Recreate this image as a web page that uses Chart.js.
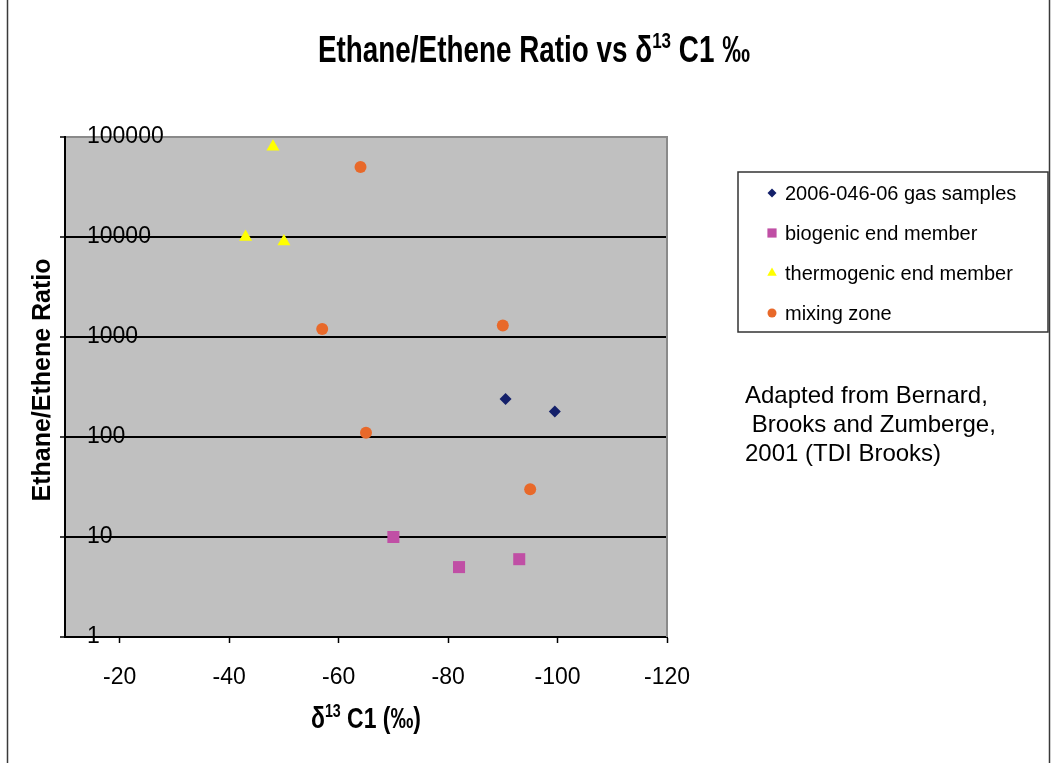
<!DOCTYPE html>
<html>
<head>
<meta charset="utf-8">
<script src="https://cdn.jsdelivr.net/npm/chart.js@4/dist/chart.umd.min.js"></script>
<style>
  html, body { margin: 0; padding: 0; background: #fff; }
  #wrap { position: relative; width: 1054px; height: 763px; }
</style>
</head>
<body>
<div id="wrap"><canvas id="c" width="1054" height="763"></canvas></div>
<script>
// Series names and values (δ13C1 in ‰, ethane/ethene ratio)
const seriesNames = ['2006-046-06 gas samples', 'biogenic end member', 'thermogenic end member', 'mixing zone'];
const gasSamplesC1 = [-90.5, -99.5];
const gasSamplesRatio = [240, 180];
const biogenicC1 = [-70, -82, -93];
const biogenicRatio = [10, 5, 6];
const thermogenicC1 = [-48, -43, -50];
const thermogenicRatio = [80000, 10000, 9000];
const mixingC1 = [-64, -57, -90, -65, -95];
const mixingRatio = [50000, 1200, 1300, 110, 30];

// Axis ticks
const xTicks = [-20, -40, -60, -80, -100, -120];
const yTicks = [1, 10, 100, 1000, 10000, 100000];

// Text blocks
const titleParts = [{ t: 'Ethane/Ethene Ratio vs δ' }, { t: '13', sup: true }, { t: ' C1 ‰' }];
const xTitleParts = [{ t: 'δ' }, { t: '13', sup: true }, { t: ' C1 (‰)' }];
const yTitle = 'Ethane/Ethene Ratio';
const noteLines = ['Adapted from Bernard,', ' Brooks and Zumberge,', '2001 (TDI Brooks)'];

const FONT = '"Liberation Sans", Arial, sans-serif';
Chart.defaults.font.family = FONT;
Chart.defaults.color = '#000';

function pts(xs, ys) { return xs.map((x, i) => ({ x: x, y: ys[i] })); }

const datasets = [
  { label: seriesNames[0], data: pts(gasSamplesC1, gasSamplesRatio), pointStyle: 'rectRot', pointRadius: 6, backgroundColor: '#14206a', borderColor: '#14206a', legendRadius: 4.5 },
  { label: seriesNames[1], data: pts(biogenicC1, biogenicRatio), pointStyle: 'rect', pointRadius: 8.5, backgroundColor: '#c04fa5', borderColor: '#c04fa5', legendRadius: 6.5 },
  { label: seriesNames[2], data: pts(thermogenicC1, thermogenicRatio), pointStyle: 'triangle', pointRadius: 7.5, backgroundColor: '#ffff00', borderColor: '#ffff00', legendRadius: 5.5 },
  { label: seriesNames[3], data: pts(mixingC1, mixingRatio), pointStyle: 'circle', pointRadius: 6, backgroundColor: '#e8692a', borderColor: '#e8692a', legendRadius: 4.5 }
].map(d => Object.assign(d, { showLine: false, borderWidth: 0, pointHoverRadius: d.pointRadius }));

// Draws a line of text with superscript parts, squeezed horizontally to a given width
function drawRich(ctx, parts, cx, baseline, size, width, weight) {
  const supSize = Math.round(size * 0.62);
  let total = 0;
  const widths = parts.map(p => {
    ctx.font = weight + ' ' + (p.sup ? supSize : size) + 'px ' + FONT;
    const w = ctx.measureText(p.t).width;
    total += w;
    return w;
  });
  const s = width ? width / total : 1;
  ctx.save();
  ctx.translate(cx - total * s / 2, baseline);
  ctx.scale(s, 1);
  ctx.textAlign = 'left';
  ctx.textBaseline = 'alphabetic';
  ctx.fillStyle = '#000';
  let x = 0;
  parts.forEach((p, i) => {
    ctx.font = weight + ' ' + (p.sup ? supSize : size) + 'px ' + FONT;
    ctx.fillText(p.t, x, p.sup ? -size * 0.38 : 0);
    x += widths[i];
  });
  ctx.restore();
}

const framePlugin = {
  id: 'frame',
  beforeDraw(chart) {
    const { ctx, chartArea: a } = chart;
    ctx.save();
    ctx.fillStyle = '#fff';
    ctx.fillRect(0, 0, chart.width, chart.height);
    ctx.fillStyle = '#c0c0c0';
    ctx.fillRect(a.left, a.top, a.right - a.left, a.bottom - a.top);
    ctx.strokeStyle = '#3a3a3a';
    ctx.lineWidth = 1.5;
    ctx.beginPath();
    ctx.moveTo(7.5, 0); ctx.lineTo(7.5, chart.height);
    ctx.moveTo(1049.5, 0); ctx.lineTo(1049.5, chart.height);
    ctx.stroke();
    ctx.restore();
  },
  beforeDatasetsDraw(chart) {
    const { ctx, chartArea: a } = chart;
    ctx.save();
    ctx.strokeStyle = '#8a8a8a';
    ctx.lineWidth = 2;
    ctx.beginPath();
    ctx.moveTo(a.right, a.top - 1);
    ctx.lineTo(a.right, a.bottom);
    ctx.stroke();
    ctx.restore();
  },
  afterDraw(chart) {
    const { ctx, chartArea: a } = chart;
    // Chart title
    drawRich(ctx, titleParts, 534, 62, 36, 432, 'bold');
    // X axis title
    drawRich(ctx, xTitleParts, (a.left + a.right) / 2, 728, 29, 110, 'bold');
    // Y axis title
    ctx.save();
    ctx.translate(50, (a.top + a.bottom) / 2 - 7);
    ctx.rotate(-Math.PI / 2);
    ctx.font = 'bold 25px ' + FONT;
    ctx.textAlign = 'center';
    ctx.textBaseline = 'alphabetic';
    ctx.fillStyle = '#000';
    ctx.fillText(yTitle, 0, 0);
    ctx.restore();

    // Legend box
    ctx.save();
    ctx.strokeStyle = '#333';
    ctx.lineWidth = 1.5;
    ctx.strokeRect(738, 172, 310, 160);
    ctx.font = '20px ' + FONT;
    ctx.textAlign = 'left';
    ctx.textBaseline = 'middle';
    chart.data.datasets.forEach((d, i) => {
      const y = 193 + i * 40;
      ctx.fillStyle = d.backgroundColor;
      ctx.strokeStyle = d.backgroundColor;
      Chart.helpers.drawPoint(ctx, { pointStyle: d.pointStyle, radius: d.legendRadius, rotation: 0, borderWidth: 0 }, 772, y);
      ctx.fillStyle = '#000';
      ctx.fillText(d.label, 785, y + 1);
    });
    ctx.restore();

    // Source note
    ctx.save();
    ctx.font = '24px ' + FONT;
    ctx.textAlign = 'left';
    ctx.textBaseline = 'alphabetic';
    ctx.fillStyle = '#000';
    noteLines.forEach((line, i) => ctx.fillText(line, 745, 403 + i * 29));
    ctx.restore();
  }
};

new Chart(document.getElementById('c'), {
  type: 'scatter',
  data: { datasets: datasets },
  options: {
    responsive: false,
    animation: false,
    devicePixelRatio: 1,
    layout: { padding: { left: 0, top: 137, right: 387, bottom: 0 } },
    plugins: { legend: { display: false }, title: { display: false }, tooltip: { enabled: false } },
    scales: {
      x: {
        type: 'linear',
        min: -120,
        max: -10,
        reverse: true,
        afterBuildTicks(scale) { scale.ticks = xTicks.map(v => ({ value: v })); },
        afterFit(scale) {
          scale.height = 126;
          scale.paddingLeft = 0; scale.paddingRight = 0;
        },
        ticks: {
          font: { size: 23 },
          color: '#000',
          padding: 21,
          maxRotation: 0,
          autoSkip: false,
          callback: v => String(v)
        },
        grid: { drawOnChartArea: false, drawTicks: true, tickLength: 6, tickColor: '#000', tickWidth: 1.5 },
        border: { display: true, color: '#000', width: 2 }
      },
      y: {
        type: 'logarithmic',
        min: 1,
        max: 100000,
        afterBuildTicks(scale) { scale.ticks = yTicks.map(v => ({ value: v })); },
        afterFit(scale) {
          scale.width = 65;
          scale.paddingTop = 0; scale.paddingBottom = 0;
        },
        ticks: {
          mirror: true,
          padding: 22,
          font: { size: 23 },
          color: '#000',
          autoSkip: false,
          callback: v => String(v)
        },
        grid: {
          color: c => (c.tick && c.tick.value === 100000 ? '#8a8a8a' : '#000'),
          lineWidth: 2,
          drawTicks: true,
          tickLength: 5,
          tickColor: '#000',
          tickWidth: 1.5
        },
        border: { display: true, color: '#000', width: 2 }
      }
    }
  },
  plugins: [framePlugin]
});
</script>
</body>
</html>
